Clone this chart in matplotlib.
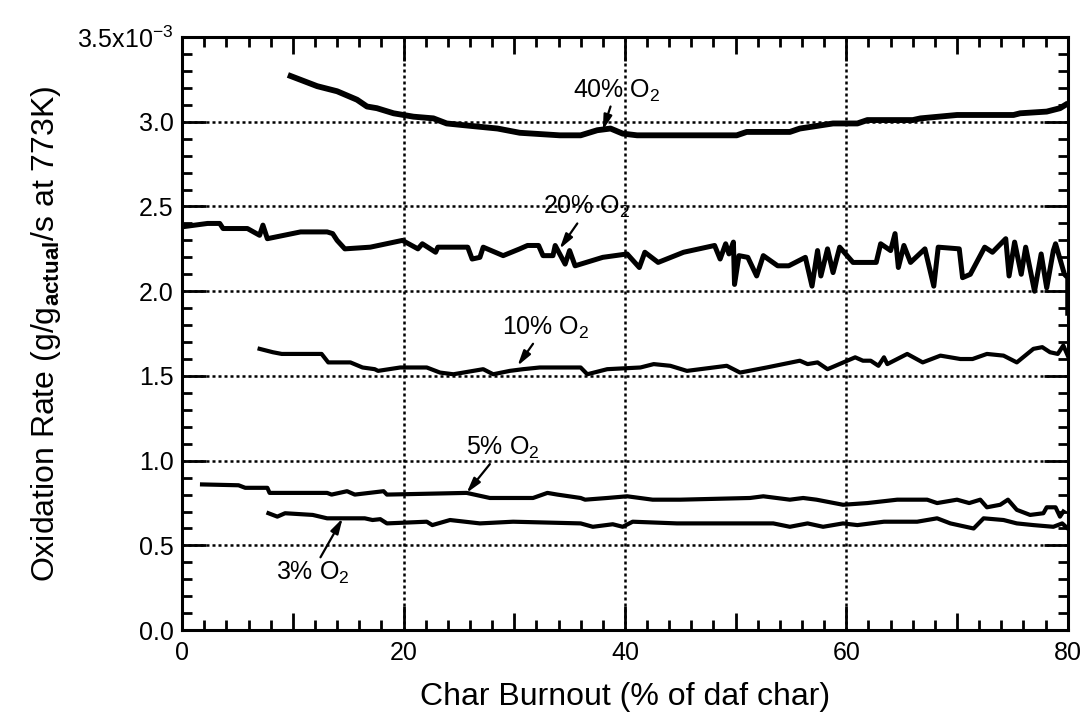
import numpy as np
import matplotlib
matplotlib.use("Agg")
from matplotlib import pyplot as plt
from matplotlib.ticker import MultipleLocator, FuncFormatter

plt.rcParams['font.family'] = ['Liberation Sans', 'DejaVu Sans']
plt.rcParams['mathtext.fontset'] = 'custom'
plt.rcParams['mathtext.rm'] = 'Liberation Sans'
plt.rcParams['mathtext.it'] = 'Liberation Sans:italic'
plt.rcParams['mathtext.bf'] = 'Liberation Sans:bold'

# burnout (% of daf char) and oxidation rate (x1e-3 g/g/s)
x40 = [9.8, 12.2, 14.0, 15.8, 16.7, 17.6, 19.1, 20.9, 22.7, 23.9, 25.4, 28.5, 30.5, 34.1, 36.0, 37.5,
       38.7, 39.8, 41.1, 50.1, 51.0, 54.9, 55.8, 58.8, 61.0, 61.9, 66.0, 66.7, 70.0, 75.1, 75.7, 78.1,
       79.3, 79.8]
y40 = [3.27, 3.21, 3.18, 3.13, 3.09, 3.08, 3.05, 3.03, 3.02, 2.99, 2.98, 2.96, 2.935, 2.92, 2.92, 2.95,
       2.96, 2.93, 2.92, 2.92, 2.94, 2.94, 2.96, 2.99, 2.99, 3.01, 3.01, 3.02, 3.04, 3.04, 3.05, 3.06,
       3.08, 3.10]

x20 = [0.0, 2.3, 3.4, 3.7, 5.9, 7.0, 7.3, 7.7, 10.7, 13.1, 13.6, 14.0, 14.7, 17.0, 19.9, 21.3, 21.7,
       22.9, 23.1, 25.8, 26.2, 26.9, 27.2, 29.0, 30.5, 31.2, 32.2, 32.6, 33.5, 33.7, 34.6, 35.0, 35.5,
       38.0, 40.2, 41.3, 41.8, 43.0, 45.3, 47.4, 48.1, 48.6, 49.1, 49.4, 49.8, 49.9, 50.3, 51.1, 51.9,
       52.5, 53.8, 54.8, 56.3, 56.9, 57.4, 57.7, 58.3, 58.8, 59.4, 60.6, 62.7, 63.1, 64.0, 64.4, 64.7,
       65.2, 65.8, 67.1, 67.9, 68.3, 70.2, 70.5, 71.2, 72.5, 73.2, 74.4, 74.7, 75.2, 75.8, 76.2, 77.0,
       77.6, 78.1, 78.7, 78.9, 79.7, 80.0, 80.0]
y20 = [2.38, 2.40, 2.40, 2.37, 2.37, 2.33, 2.39, 2.31, 2.35, 2.35, 2.34, 2.30, 2.25, 2.26, 2.30, 2.25, 2.28,
       2.23, 2.26, 2.26, 2.19, 2.20, 2.26, 2.21, 2.25, 2.27, 2.27, 2.21, 2.21, 2.27, 2.16, 2.24, 2.15,
       2.20, 2.22, 2.14, 2.23, 2.17, 2.23, 2.26, 2.27, 2.19, 2.28, 2.22, 2.29, 2.04, 2.21, 2.20, 2.09,
       2.21, 2.15, 2.15, 2.20, 2.03, 2.24, 2.09, 2.25, 2.11, 2.26, 2.17, 2.17, 2.28, 2.24, 2.34, 2.14,
       2.27, 2.17, 2.25, 2.03, 2.26, 2.25, 2.08, 2.10, 2.26, 2.23, 2.31, 2.09, 2.29, 2.10, 2.26, 2.00,
       2.22, 2.02, 2.24, 2.28, 2.10, 2.08, 1.87]

x10 = [7.0, 8.2, 9.0, 12.6, 13.2, 15.2, 16.3, 17.4, 17.7, 19.7, 22.1, 23.3, 24.5, 27.2, 28.1, 29.6,
       30.8, 32.3, 36.0, 36.6, 38.4, 41.4, 42.6, 44.1, 45.6, 49.2, 50.4, 52.8, 55.8, 56.5, 57.4, 58.3,
       60.8, 61.5, 62.2, 62.9, 63.4, 63.7, 65.5, 66.9, 68.5, 70.3, 71.4, 72.7, 74.2, 75.4, 76.9, 77.7,
       78.4, 79.1, 79.6, 80.0]
y10 = [1.66, 1.64, 1.63, 1.63, 1.58, 1.58, 1.55, 1.54, 1.53, 1.55, 1.55, 1.52, 1.51, 1.54, 1.51, 1.53,
       1.54, 1.55, 1.55, 1.51, 1.54, 1.55, 1.57, 1.56, 1.53, 1.56, 1.52, 1.55, 1.59, 1.57, 1.58, 1.54,
       1.61, 1.59, 1.59, 1.56, 1.61, 1.57, 1.63, 1.58, 1.62, 1.60, 1.60, 1.63, 1.62, 1.58, 1.66, 1.67,
       1.64, 1.63, 1.68, 1.62]

x5 = [1.8, 5.1, 5.7, 7.7, 7.9, 13.1, 13.5, 14.9, 15.6, 18.2, 18.5, 25.7, 27.8, 31.7, 33.0, 33.9, 36.0,
      36.4, 38.4, 40.2, 42.5, 45.0, 51.3, 52.5, 53.7, 54.9, 56.1, 57.3, 59.7, 61.9, 64.6, 67.3, 68.2,
      70.0, 71.1, 72.1, 72.7, 73.9, 74.6, 75.4, 76.6, 77.8, 78.1, 78.9, 79.3, 79.6]
y5 = [0.86, 0.855, 0.84, 0.84, 0.81, 0.81, 0.80, 0.82, 0.80, 0.82, 0.80, 0.81, 0.78, 0.78, 0.81, 0.80, 0.78,
      0.77, 0.78, 0.79, 0.77, 0.77, 0.78, 0.79, 0.78, 0.77, 0.78, 0.77, 0.74, 0.75, 0.77, 0.77, 0.75,
      0.77, 0.75, 0.77, 0.725, 0.74, 0.77, 0.71, 0.68, 0.69, 0.725, 0.725, 0.67, 0.70]

x3 = [7.8, 8.6, 9.3, 11.8, 13.1, 16.5, 17.2, 17.9, 18.5, 22.1, 22.6, 24.2, 26.9, 29.9, 36.0, 37.1, 38.9,
      39.8, 40.7, 44.7, 53.4, 54.9, 56.5, 57.9, 59.7, 61.0, 63.4, 66.4, 68.2, 69.4, 71.5, 72.4, 74.2,
      75.4, 76.9, 78.7, 79.5, 80.0]
y3 = [0.69, 0.67, 0.69, 0.68, 0.66, 0.66, 0.65, 0.655, 0.63, 0.64, 0.62, 0.65, 0.63, 0.64, 0.63, 0.61, 0.625,
      0.61, 0.64, 0.63, 0.63, 0.61, 0.63, 0.61, 0.63, 0.62, 0.64, 0.64, 0.66, 0.63, 0.60, 0.66, 0.65,
      0.63, 0.62, 0.61, 0.63, 0.60]

labels = ["40% O$_2$", "20% O$_2$", "10% O$_2$", "5% O$_2$", "3% O$_2$"]
label_pos = [(35.3, 3.14), (32.6, 2.457), (28.9, 1.744), (25.6, 1.037), (8.5, 0.30)]
arrow_tail = [(38.7, 3.09), (35.7, 2.40), (31.7, 1.69), (27.8, 0.98), (12.5, 0.43)]
arrow_tip = [(38.0, 2.95), (34.1, 2.25), (30.3, 1.56), (25.7, 0.81), (14.5, 0.66)]

fig = plt.figure(figsize=(10.84, 7.26), dpi=100)
ax = fig.add_axes([0.168, 0.132, 0.817, 0.817])

ax.plot(x40, y40, color='black', lw=4.2)
ax.plot(x20, y20, color='black', lw=3.6)
ax.plot(x10, y10, color='black', lw=3.0)
ax.plot(x5, y5, color='black', lw=3.0)
ax.plot(x3, y3, color='black', lw=3.0)

for lab, pos in zip(labels, label_pos):
    ax.text(pos[0], pos[1], lab, fontsize=18, ha='left', va='baseline')
for tail, tip in zip(arrow_tail, arrow_tip):
    ax.annotate('', xy=tip, xytext=tail,
                arrowprops=dict(arrowstyle='-|>,head_length=0.9,head_width=0.25',
                                color='black', lw=1.6, shrinkA=0, shrinkB=0))

ax.set_xlim(0, 80)
ax.set_ylim(0, 3.5)
ax.xaxis.set_major_locator(MultipleLocator(10))
ax.xaxis.set_minor_locator(MultipleLocator(2))
ax.yaxis.set_major_locator(MultipleLocator(0.5))
ax.yaxis.set_minor_locator(MultipleLocator(0.1))

ax.xaxis.set_major_formatter(FuncFormatter(lambda v, p: "%d" % v if round(v) % 20 == 0 else ""))
def yfmt(v, p):
    if abs(v - 3.5) < 1e-6:
        return "3.5x10$^{-3}$"
    return "%.1f" % v
ax.yaxis.set_major_formatter(FuncFormatter(yfmt))

ax.tick_params(which='both', direction='in', top=True, right=True, width=2, colors='black', labelsize=18)
ax.tick_params(which='major', length=17)
ax.tick_params(which='minor', length=7)
ax.tick_params(axis='x', which='major', pad=8)
ax.tick_params(axis='y', which='major', pad=6)

ax.grid(True, which='major', color='black', linestyle=(0, (1.2, 1.2)), lw=1.8)

fig.canvas.draw()
for t in ax.xaxis.get_major_ticks():
    v = t.get_loc()
    if round(v) % 20 != 0:
        t.tick1line.set_markersize(12)
        t.tick2line.set_markersize(12)
        t.gridline.set_visible(False)
    if v <= 0 or v >= 80:
        t.gridline.set_visible(False)
for t in ax.yaxis.get_major_ticks():
    v = t.get_loc()
    if v <= 0 or v >= 3.5:
        t.gridline.set_visible(False)

for s in ax.spines.values():
    s.set_linewidth(2.2)

ax.set_xlabel("Char Burnout (% of daf char)", fontsize=23, labelpad=12)
ax.set_ylabel("Oxidation Rate (g/g$_{\\mathbf{actual}}$/s at 773K)", fontsize=23, labelpad=10)

fig.savefig("out.png", dpi=100)
